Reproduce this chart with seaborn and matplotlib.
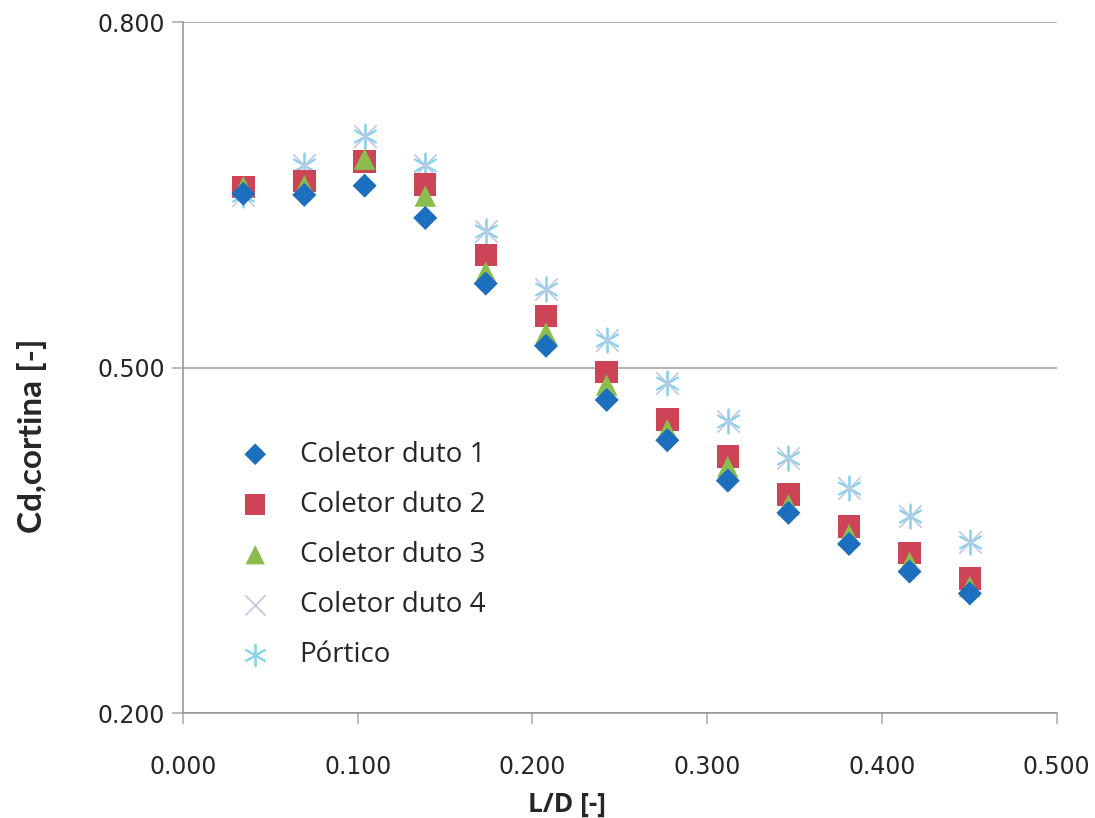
import pandas as pd
import matplotlib.pyplot as plt
import seaborn as sns

# L/D positions
ld = [0.0346, 0.0695, 0.1040, 0.1387, 0.1733, 0.2078, 0.2425,
      0.2772, 0.3118, 0.3465, 0.3812, 0.4158, 0.4503]

# Cd,cortina per series
duto1 = [0.651, 0.650, 0.658, 0.630, 0.573, 0.519, 0.472,
         0.437, 0.402, 0.374, 0.347, 0.323, 0.304]
duto2 = [0.657, 0.662, 0.679, 0.659, 0.598, 0.545, 0.496,
         0.455, 0.423, 0.390, 0.362, 0.339, 0.317]
duto3 = [0.657, 0.658, 0.681, 0.649, 0.583, 0.530, 0.485,
         0.446, 0.414, 0.381, 0.355, 0.331, 0.310]
duto4 = [0.650, 0.676, 0.701, 0.676, 0.619, 0.568, 0.524,
         0.487, 0.454, 0.422, 0.396, 0.371, 0.349]
portico = [0.650, 0.676, 0.701, 0.676, 0.619, 0.568, 0.524,
           0.487, 0.454, 0.422, 0.396, 0.371, 0.349]

series = ['Coletor duto 1', 'Coletor duto 2', 'Coletor duto 3',
          'Coletor duto 4', 'Pórtico']
values = [duto1, duto2, duto3, duto4, portico]

# marker, colour, size, line width
styles = {
    'Coletor duto 1': ('D', '#1c6fbe', 150, 0),
    'Coletor duto 2': ('s', '#cc4455', 260, 0),
    'Coletor duto 3': ('^', '#8bbd4c', 240, 0),
    'Coletor duto 4': ('x', '#c4c4e6', 260, 1.2),
    'Pórtico': ((6, 2, 0), '#86d4e8', 300, 1.3),
}

sns.set_style('white')
plt.rcParams['font.family'] = ['DejaVu Sans']

fig, ax = plt.subplots(figsize=(10.95, 8.18), dpi=100)

# draw back to front so order matches the picture
for name in ['Pórtico', 'Coletor duto 4', 'Coletor duto 2', 'Coletor duto 3', 'Coletor duto 1']:
    df = pd.DataFrame({'LD': ld, 'Cd': values[series.index(name)]})
    m, c, s, lw = styles[name]
    sns.scatterplot(data=df, x='LD', y='Cd', marker=m, color=c, s=s,
                    linewidth=lw, edgecolor=c if lw else 'none', ax=ax,
                    label=name, zorder=3)

ax.set_xlim(0, 0.5)
ax.set_ylim(0.2, 0.8)
ax.set_xticks([0.0, 0.1, 0.2, 0.3, 0.4, 0.5])
ax.set_yticks([0.2, 0.5, 0.8])
ax.set_xticklabels([f'{v:.3f}' for v in ax.get_xticks()])
ax.set_yticklabels([f'{v:.3f}' for v in ax.get_yticks()])
ax.tick_params(axis='both', labelsize=17, length=8, width=1.2, color='#b0b0b0',
               direction='out', left=True, bottom=True)
ax.tick_params(axis='x', pad=22)
ax.tick_params(axis='y', pad=5)

ax.yaxis.grid(True, color='#a6a6a6', linewidth=1.2)
ax.set_axisbelow(True)
for side in ['top', 'right']:
    ax.spines[side].set_visible(False)
for side in ['left', 'bottom']:
    ax.spines[side].set_color('#999999')
    ax.spines[side].set_linewidth(1.2)

ax.set_xlabel('L/D [-]', fontsize=19, fontweight='bold', family='Open Sans')
ax.set_ylabel('Cd,cortina [-]', fontsize=24, fontweight='bold', family='Lato')
ax.xaxis.set_label_coords(0.44, -0.112)
ax.yaxis.set_label_coords(-0.156, 0.401)

# legend in the original series order
handles, labels = ax.get_legend_handles_labels()
order = [labels.index(n) for n in series]
ax.legend([handles[i] for i in order], series, loc='center left',
          bbox_to_anchor=(0.051, 0.229), frameon=False, handlelength=2.0,
          handletextpad=0.6, labelspacing=0.8, markerscale=0.9,
          borderaxespad=0, borderpad=0, prop={'family': 'Open Sans', 'size': 20})

fig.subplots_adjust(left=0.167, right=0.965, top=0.973, bottom=0.128)
plt.savefig('out.png')
plt.close()
